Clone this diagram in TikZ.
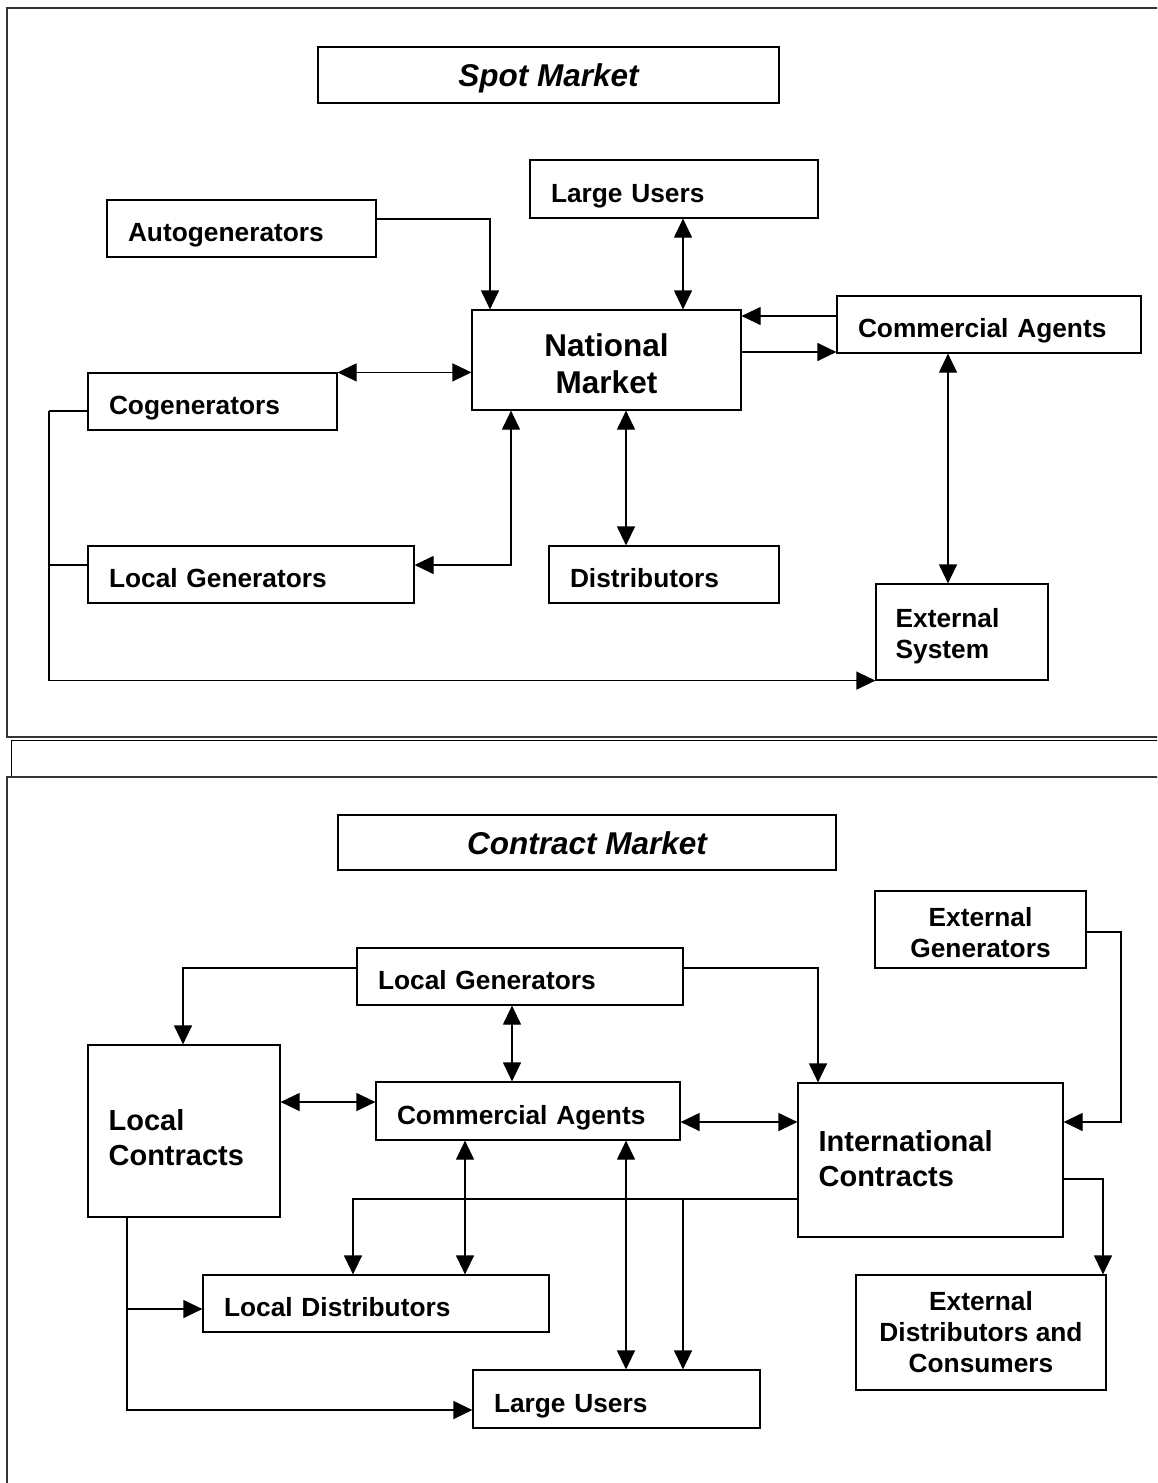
\documentclass[tikz,border=0pt]{standalone}
\usepackage{fontspec}
\setmainfont{Liberation Sans}
\usetikzlibrary{arrows.meta,calc}

\tikzset{
  box/.style={draw, line width=1.2pt, inner ysep=0pt, inner xsep=21pt,
    font=\bfseries\fontsize{26.3}{31}\selectfont},
  % single-line boxes: fixed text height and depth keep every baseline at the same place
  lbox/.style={box, align=left, text height=32pt, text depth=5.5pt},
  % empty outline for boxes whose text is set as a separate node
  shell/.style={draw, line width=1.2pt, inner sep=0pt},
  txt/.style={inner sep=0pt, font=\bfseries\fontsize{26.3}{31}\selectfont},
  bigtxt/.style={inner sep=0pt, font=\bfseries\fontsize{29}{35}\selectfont},
  titlebox/.style={draw, line width=1.2pt, inner sep=0pt, align=center,
    text height=30pt, text depth=6.6pt,
    font=\bfseries\itshape\fontsize{31.5}{37}\selectfont},
  frame/.style={draw=black!80, line width=2pt},
  link/.style={line width=1.2pt},
  arr/.style={link, -{Triangle[length=19pt,width=18pt]}},
  darr/.style={link, {Triangle[length=19pt,width=18pt]}-{Triangle[length=19pt,width=18pt]}}
}

\begin{document}
\begin{tikzpicture}[x=1pt,y=-1pt]
\clip (0,0) rectangle (1157,1483);
\useasboundingbox (0,0) rectangle (1157,1483);

% panel frames
\draw[frame] (7,8) rectangle (1175,737);
\draw[line width=1pt] (11,740) rectangle (1175,777);
\draw[frame] (7,777) rectangle (1175,1510);

% ---------------- spot market ----------------
\node[titlebox, minimum width=461pt, minimum height=56pt] (spot) at (548.5,75) {Spot Market};

\node[lbox, text width=246pt, minimum height=58pt] (lu1) at (674,189) {Large Users};
\node[lbox, text width=227pt, minimum height=57pt] (auto) at (241.5,228.5) {Autogenerators};
\node[shell, minimum width=269pt, minimum height=100pt] (nm) at (606.5,360) {};
\node[txt, align=center, font=\bfseries\fontsize{31.5}{37}\selectfont]
  (nm-t) at ($(nm.center)+(0,4)$) {National\\Market};
\node[lbox, text width=262pt, minimum height=57pt] (ca1) at (989,324.5) {Commercial Agents};
\node[lbox, text width=207pt, minimum height=57pt] (cog) at (212.5,401.5) {Cogenerators};
\node[lbox, text width=284pt, minimum height=57pt] (lg1) at (251,574.5) {Local Generators};
\node[lbox, text width=188pt, minimum height=57pt] (dist) at (664,574.5) {Distributors};
\node[shell, minimum width=172pt, minimum height=96pt] (ext) at (962,632) {};
\node[txt, align=left, anchor=west] (ext-t) at ($(ext.west)+(20,4)$) {External\\System};

\draw[arr] (auto.east |- 0,219) -| (nm.north -| 490,0);
\draw[darr] (lu1.south -| 683,0) -- (nm.north -| 683,0);
\draw[arr] (ca1.west |- 0,316) -- (nm.east |- 0,316);
\draw[arr] (nm.east |- 0,352) -- (ca1.west |- 0,352);
\draw[darr] (cog.north east) -- (nm.west |- cog.north east);
\draw[darr] (lg1.east |- 0,565) -| (nm.south -| 511,0);
\draw[darr] (nm.south -| 626,0) -- (dist.north -| 626,0);
\draw[darr] (ca1.south -| 948,0) -- (ext.north -| 948,0);
\coordinate (busA) at (49,411);
\coordinate (busB) at (49,565);
\draw[link] (cog.west |- busA) -- (busA);
\draw[link] (lg1.west |- busB) -- (busB);
\draw[arr] (busA) |- (ext.south west);

% ---------------- contract market ----------------
\node[titlebox, minimum width=498pt, minimum height=55pt] (contract) at (587,842.5) {Contract Market};

\node[shell, minimum width=211pt, minimum height=77pt] (eg) at (980.5,929.5) {};
\node[txt, align=center] (eg-t) at ($(eg.center)+(0,3)$) {External\\Generators};
\node[lbox, text width=284pt, minimum height=57pt] (lg2) at (520,976.5) {Local Generators};
\node[shell, minimum width=192pt, minimum height=172pt] (lc) at (184,1131) {};
\node[bigtxt, align=left, anchor=west] (lc-t) at ($(lc.west)+(21,7)$) {Local\\Contracts};
\node[lbox, text width=262pt, minimum height=58pt] (ca2) at (528,1111) {Commercial Agents};
\node[shell, minimum width=265pt, minimum height=154pt] (ic) at (930.5,1160) {};
\node[bigtxt, align=left, anchor=west] (ic-t) at ($(ic.west)+(21,-1)$) {International\\Contracts};
\node[lbox, text width=304pt, minimum height=57pt] (ld) at (376,1303.5) {Local Distributors};
\node[shell, minimum width=250pt, minimum height=115pt] (edc) at (981,1332.5) {};
\node[txt, align=center] (edc-t) at (edc.center) {External\\Distributors and\\Consumers};
\node[lbox, text width=245pt, minimum height=58pt] (lu2) at (616.5,1399) {Large Users};

\draw[arr] (lg2.west |- 0,968) -| (lc.north -| 183,0);
\draw[arr] (lg2.east |- 0,968) -| (ic.north -| 818,0);
\draw[darr] (lg2.south -| 512,0) -- (ca2.north -| 512,0);
\draw[darr] (lc.east |- 0,1102) -- (ca2.west |- 0,1102);
\draw[darr] (ca2.east |- 0,1122) -- (ic.west |- 0,1122);
\draw[arr] (eg.east |- 0,932) -- (1121,932) |- (ic.east |- 0,1122);
\draw[arr] (ic.east |- 0,1179) -| (edc.north -| 1103,0);
\coordinate (tap) at (683,1199);
\draw[arr] (ic.west |- tap) -| (ld.north -| 353,0);
\draw[arr] (tap) -- (lu2.north -| tap);
\draw[darr] (ca2.south -| 465,0) -- (ld.north -| 465,0);
\draw[darr] (ca2.south -| 626,0) -- (lu2.north -| 626,0);
\coordinate (tapL) at (127,1309);
\draw[arr] (lc.south -| tapL) |- (lu2.west |- 0,1410);
\draw[arr] (tapL) -- (ld.west |- tapL);
\end{tikzpicture}
\end{document}
